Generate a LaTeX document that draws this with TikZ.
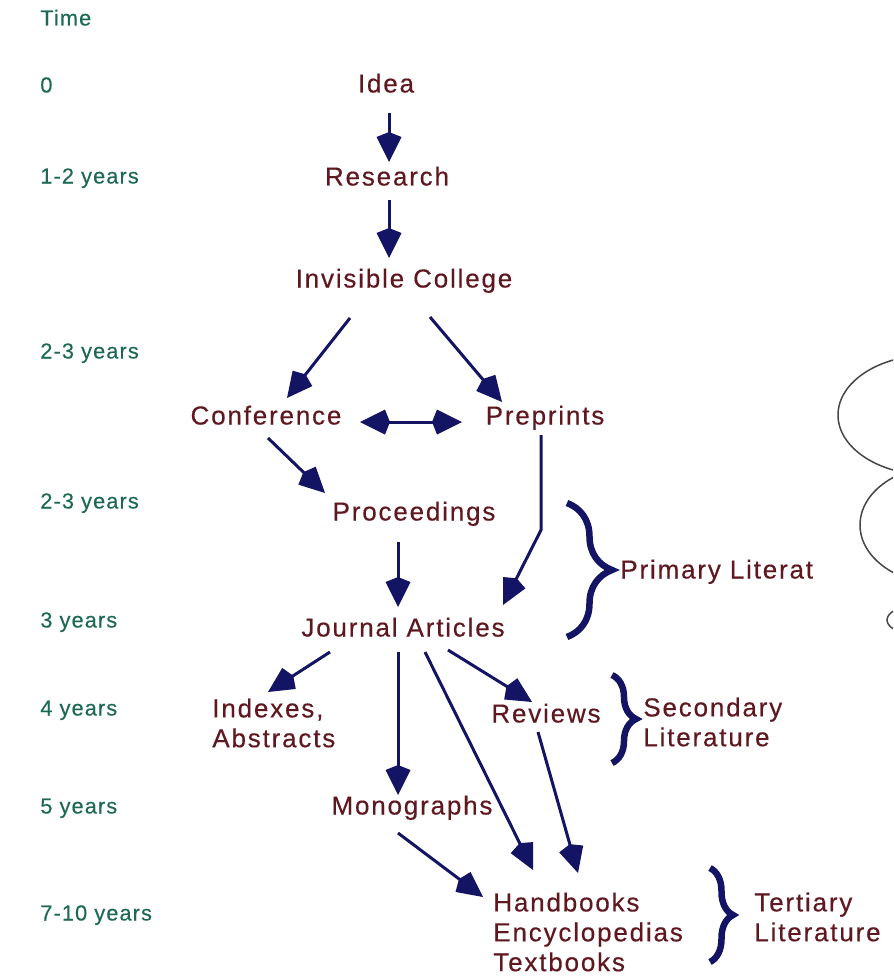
\documentclass[tikz,border=0pt]{standalone}
\usepackage{fontspec}
\usepackage{tikz}
\usetikzlibrary{arrows.meta,calc,decorations.pathreplacing}
\newfontfamily\lblfont{Liberation Sans}[LetterSpace=7,FakeBold=0.4]
\newfontfamily\timefont{Liberation Sans}[LetterSpace=5,FakeBold=0.3]
\definecolor{lblred}{RGB}{96,24,32}
\definecolor{timegreen}{RGB}{30,105,85}
\definecolor{arrowblue}{RGB}{20,20,100}
\definecolor{ringgray}{RGB}{70,70,70}

\begin{document}
\begin{tikzpicture}[x=0.02cm,y=-0.02cm,
    >={Kite[length=0.6cm,width=0.5cm,inset=0.1cm]},
    lbl/.style={font=\lblfont\fontsize{14.8pt}{17pt}\selectfont, text=lblred, inner sep=0pt},
    stage/.style={lbl, text height=0.36cm, text depth=0.1cm},
    timelbl/.style={font=\timefont\fontsize{12.4pt}{14pt}\selectfont, text=timegreen,
        anchor=west, inner sep=0pt, text height=0.3cm, text depth=0.08cm},
    flow/.style={draw=arrowblue, line width=0.06cm, ->},
    bracket/.style={draw=arrowblue, line width=0.13cm, decorate, decoration={brace, amplitude=#1}},
    ring/.style={draw=ringgray, line width=0.03cm}]
        \useasboundingbox (0,0) rectangle (893,980);
        \clip (0,0) rectangle (893,980);
        % Time axis
        \node[timelbl] (tlbl) at (40,20)  {Time};
        \node[timelbl] (t0)   at (40,87)  {0};
        \node[timelbl] (t1)   at (40,178) {1-2 years};
        \node[timelbl] (t2)   at (40,353) {2-3 years};
        \node[timelbl] (t3)   at (40,503) {2-3 years};
        \node[timelbl] (t4)   at (40,622) {3 years};
        \node[timelbl] (t5)   at (40,710) {4 years};
        \node[timelbl] (t6)   at (40,808) {5 years};
        \node[timelbl] (t7)   at (40,915) {7-10 years};
        % Nodes
        \node[stage] (idea) at (386,86)  {Idea};
        \node[stage] (res)  at (387,179) {Research};
        \node[stage] (inv)  at (404,281) {Invisible College};
        \node[stage] (conf) at (266,418) {Conference};
        \node[stage] (pre)  at (545,418) {Preprints};
        \node[stage] (proc) at (414,514) {Proceedings};
        \node[stage] (ja)   at (403,630) {Journal Articles};
        \node[lbl, anchor=west, align=left] (idx) at (212,723) {Indexes,\\Abstracts};
        \node[stage] (rev)  at (546,716) {Reviews};
        \node[stage] (mono) at (412,808) {Monographs};
        \node[lbl, anchor=west, align=left] (hb) at (493,932) {Handbooks\\Encyclopedias\\Textbooks};
        % Literature groups
        \node[stage, anchor=west] (prim) at (620,572) {Primary Literat};
        \node[lbl, anchor=west, align=left] (sec) at (643,722) {Secondary\\Literature};
        \node[lbl, anchor=west, align=left] (tert) at (754,917) {Tertiary\\Literature};
        \draw[bracket=0.9cm]  (567,503) -- (567,637);
        \draw[bracket=0.48cm] (612,675) -- (612,763);
        \draw[bracket=0.46cm] (710,868) -- (710,962);
        % Edges
        \draw[flow] ($(idea)+(3,27)$) -- ($(res)+(2,-17)$);
        \draw[flow] ($(res)+(2,21)$) -- ($(inv)+(-15,-23)$);
        \draw[flow] ($(inv)+(-54,37)$) -- ($(conf)+(21,-20)$);
        \draw[flow] ($(inv)+(26,36)$) -- ($(pre)+(-43,-16)$);
        \draw[flow, <->] ($(conf)+(94,4)$) -- ($(pre)+(-83,4)$);
        \draw[flow] ($(conf)+(2,20)$) -- ($(proc)+(-89,-21)$);
        \draw[flow] ($(pre)+(-4,17)$) -- ($(pre)+(-4,112)$) -- ($(ja)+(100,-25)$);
        \draw[flow] ($(proc)+(-16,28)$) -- ($(ja)+(-5,-23)$);
        \draw[flow] ($(ja)+(-73,22)$) -- ($(idx.west)+(56,-31)$);
        \draw[flow] ($(ja)+(-5,22)$) -- ($(mono)+(-14,-13)$);
        \draw[flow] ($(ja)+(22,22)$) -- ($(hb.west)+(40,-62)$);
        \draw[flow] ($(ja)+(45,20)$) -- ($(rev)+(-14,-14)$);
        \draw[flow] ($(rev)+(-8,16)$) -- ($(hb.west)+(85,-59)$);
        \draw[flow] ($(mono)+(-14,25)$) -- ($(hb.west)+(-10,-35)$);
        % Side sketch
        \draw[ring] (930,415) ellipse [x radius=92, y radius=60];
        \draw[ring] (945,525) ellipse [x radius=85, y radius=60];
        \draw[ring] (915,620) ellipse [x radius=28, y radius=14];
    \end{tikzpicture}
\end{document}
